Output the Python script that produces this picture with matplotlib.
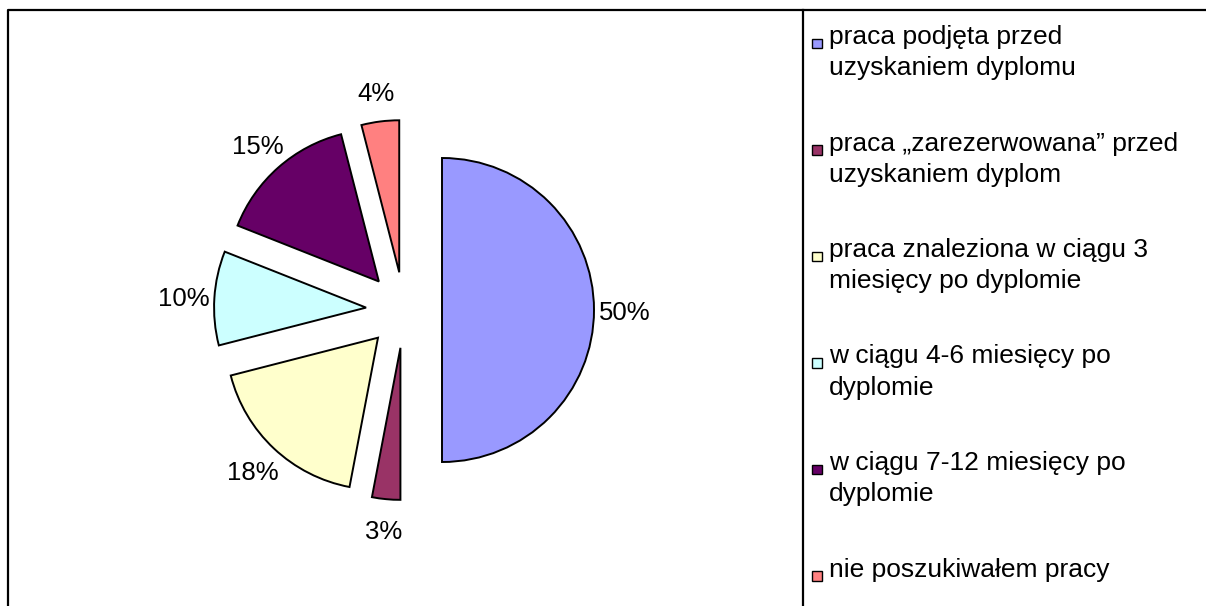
import matplotlib

matplotlib.use("Agg")
import matplotlib.pyplot as plt
from matplotlib.patches import Rectangle

plt.rcParams["font.family"] = ["Liberation Sans", "DejaVu Sans"]

# ── Data ─────────────────────────────────────────────────────────────────────
LABELS = [
    "praca podjęta przed\nuzyskaniem dyplomu",
    "praca „zarezerwowana” przed\nuzyskaniem dyplom",
    "praca znaleziona w ciągu 3\nmiesięcy po dyplomie",
    "w ciągu 4-6 miesięcy po\ndyplomie",
    "w ciągu 7-12 miesięcy po\ndyplomie",
    "nie poszukiwałem pracy",
]
VALUES = [50, 3, 18, 10, 15, 4]
COLORS = ["#9999FF", "#993366", "#FFFFCC", "#CCFFFF", "#660066", "#FF8080"]

W, H = 1206, 606
R = 152

fig = plt.figure(figsize=(W / 100, H / 100), dpi=100)
ax = fig.add_axes([0, 0, 1, 1])

# ── Pie (exploded, clockwise from 12 o'clock) ────────────────────────────────
# explode is applied in data units here, so scale by the radius
wedges, _, autotexts = ax.pie(
    VALUES,
    colors=COLORS,
    startangle=90,
    counterclock=False,
    explode=[0.25 * R] * len(VALUES),
    center=(404, H - 310),
    radius=R,
    autopct=lambda p: f"{p:.0f}%",
    pctdistance=1.2,
    textprops={"fontsize": 18.5, "color": "black"},
    wedgeprops={"edgecolor": "black", "linewidth": 1.4},
)
for t in autotexts:
    t.set_verticalalignment("center_baseline")

ax.set_xlim(0, W)
ax.set_ylim(0, H)
ax.set_aspect("equal")
ax.axis("off")

# ── Frame: chart border + legend box (cut at right/bottom) ───────────────────
ax.plot([8, 8, W + 5], [-5, H - 10, H - 10], color="black", lw=1.6, clip_on=False)
ax.plot([803, 803], [-5, H - 10], color="black", lw=1.6, clip_on=False)

# ── Legend (square aligned with first text line) ─────────────────────────────
for i, (lab, col) in enumerate(zip(LABELS, COLORS)):
    top = 25 + i * 106.5
    ax.add_patch(Rectangle((812, H - top - 23), 9.5, 9.5, facecolor=col,
                           edgecolor="black", lw=1.0))
    ax.text(829, H - top, lab, fontsize=19, va="top", ha="left", linespacing=1.38)

fig.savefig("out.png", dpi=100)
